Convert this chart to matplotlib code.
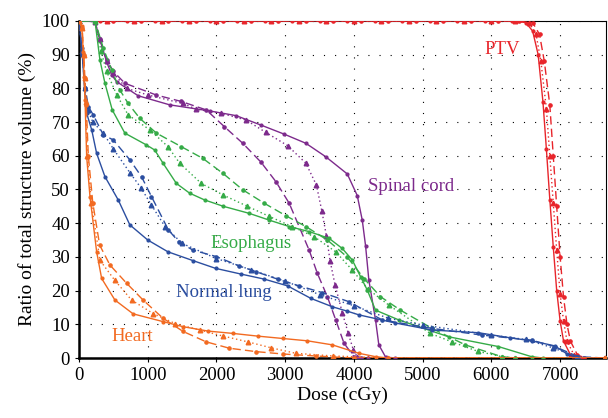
import matplotlib
matplotlib.use("Agg")
import matplotlib.pyplot as plt

plt.rcParams['font.family'] = ['Liberation Serif', 'DejaVu Serif']

# colours per structure
C_PTV = "#e8252b"
C_CORD = "#7d2a8c"
C_ESO = "#35ab47"
C_LUNG = "#2b4ea0"
C_HEART = "#f26a21"

# ---- PTV ----
ptv_solid_x = [0, 300, 700, 1100, 1500, 1900, 2300, 2700, 3100, 3500, 3900, 4300, 4700, 5100, 5500, 5900, 6300, 6500, 6600, 6680, 6750, 6800, 6850, 6900, 6950, 7000, 7050, 7150, 7250, 7650]
ptv_solid_y = [100, 100, 100, 100, 100, 100, 100, 100, 100, 100, 100, 100, 100, 100, 100, 100, 100, 99.5, 97, 90, 76, 62, 47, 33, 20, 11, 5, 1, 0, 0]
ptv_dash_x = [0, 500, 900, 1300, 1700, 2100, 2500, 2900, 3300, 3700, 4100, 4500, 4900, 5300, 5700, 6100, 6400, 6600, 6700, 6770, 6850, 6900, 6950, 7000, 7050, 7100, 7150, 7250, 7350, 7650]
ptv_dash_y = [100, 100, 100, 100, 100, 100, 100, 100, 100, 100, 100, 100, 100, 100, 100, 100, 100, 99.5, 96, 88, 75, 60, 45, 30, 18, 10, 5, 1, 0, 0]
ptv_dot_x = [0, 400, 800, 1200, 1600, 2000, 2400, 2800, 3200, 3600, 4000, 4400, 4800, 5200, 5600, 6000, 6350, 6550, 6650, 6720, 6800, 6850, 6900, 6950, 7000, 7050, 7100, 7200, 7300, 7650]
ptv_dot_y = [100, 100, 100, 100, 100, 100, 100, 100, 100, 100, 100, 100, 100, 100, 100, 100, 100, 99.5, 96, 88, 74, 60, 46, 32, 19, 11, 5, 1, 0, 0]

# ---- Spinal cord ----
cord_solid_x = [0, 232, 304, 401, 474, 546, 860, 1319, 1899, 2285, 2647, 2986, 3300, 3590, 3903, 4048, 4121, 4169, 4217, 4314, 4362, 4460, 4600]
cord_solid_y = [100, 99.8, 94.4, 87.9, 84.0, 82.0, 77.8, 75.1, 73.3, 71.9, 69.1, 66.4, 63.7, 59.7, 54.6, 48.2, 40.9, 33.3, 23.1, 11.3, 3.9, 0.3, 0]
cord_dash_x = [0, 232, 304, 401, 500, 667, 1126, 1488, 1851, 2116, 2382, 2647, 2865, 3058, 3348, 3468, 3613, 3735, 3855, 4000, 4100]
cord_dash_y = [100, 99.8, 94.5, 88.5, 85.0, 81.5, 78.0, 76.1, 73.6, 68.6, 63.7, 58.1, 52.3, 45.9, 32.0, 25.1, 18.2, 11.3, 4.4, 0.4, 0]
cord_dot_x = [0, 232, 304, 401, 500, 691, 1005, 1512, 1706, 2068, 2430, 2720, 3034, 3300, 3454, 3532, 3599, 3652, 3725, 3830, 3917, 3990, 4048, 4200]
cord_dot_y = [100, 99.8, 94.5, 88.0, 84.5, 80.0, 78.0, 75.5, 73.8, 72.6, 70.6, 66.9, 63.0, 57.8, 51.3, 43.7, 36.3, 28.9, 21.7, 13.5, 7.3, 2.5, 0.3, 0]

# ---- Esophagus ----
eso_solid_x = [0, 232, 304, 377, 483, 667, 981, 1101, 1222, 1416, 1609, 1826, 2100, 2478, 2768, 3058, 3348, 3638, 3830, 3975, 4097, 4193, 4314, 4652, 5377, 6101, 6584, 6750, 7650]
eso_solid_y = [100, 100, 88.4, 81.5, 73.6, 66.7, 63.2, 61.7, 57.8, 51.8, 48.9, 46.9, 45.0, 42.9, 40.9, 39.0, 37.5, 35.5, 32.5, 29.1, 24.1, 20.2, 14.2, 11.3, 6.3, 3.4, 0.4, 0, 0]
eso_dash_x = [0, 232, 353, 474, 594, 715, 884, 1126, 1488, 1802, 2092, 2382, 2696, 3010, 3300, 3613, 3900, 4150, 4386, 4676, 5135, 5619, 6150, 6350]
eso_dash_y = [100, 100, 91.9, 85.5, 79.5, 75.5, 71.1, 66.7, 62.7, 59.2, 54.8, 49.9, 45.9, 42.2, 39.0, 35.0, 30.0, 23.5, 18.2, 14.2, 8.8, 3.9, 0.4, 0]
eso_dot_x = [0, 232, 320, 401, 550, 715, 1029, 1294, 1464, 1778, 2092, 2450, 2768, 3100, 3420, 3735, 3975, 4200, 4507, 5110, 5425, 5800, 6150, 6350]
eso_dot_y = [100, 100, 91.0, 85.0, 78.0, 72.1, 67.7, 62.7, 57.8, 51.8, 48.4, 45.0, 42.0, 39.0, 36.0, 31.5, 26.1, 20.5, 15.7, 7.3, 4.8, 2.0, 0.4, 0]

# ---- Normal lung ----
lung_solid_x = [0, 40, 80, 111, 184, 256, 377, 570, 739, 1000, 1294, 1657, 1986, 2357, 2696, 3034, 3372, 3686, 3903, 4072, 4600, 5135, 5812, 6271, 6584, 6923, 7100, 7260, 7650]
lung_solid_y = [100, 92, 80, 72.6, 67.7, 60.7, 53.8, 46.9, 39.5, 35.0, 31.5, 28.9, 26.6, 24.9, 23.4, 21.4, 17.7, 15.2, 13.9, 12.8, 10.4, 8.3, 7.5, 6.0, 5.1, 3.6, 1.2, 0, 0]
lung_dash_x = [0, 50, 90, 135, 207, 353, 497, 739, 909, 1054, 1300, 1450, 1657, 1996, 2333, 2575, 2889, 3203, 3541, 3928, 4411, 5135, 5860, 6584, 6923, 7261, 7650]
lung_dash_y = [100, 90, 80, 74.6, 72.1, 66.2, 64.7, 58.8, 53.8, 47.9, 38.0, 34.5, 32.0, 30.1, 27.3, 25.6, 23.4, 21.4, 19.4, 16.7, 11.3, 8.8, 6.8, 5.3, 3.4, 0.4, 0]
lung_dot_x = [0, 45, 85, 130, 200, 353, 500, 739, 900, 1050, 1250, 1500, 2000, 2500, 3000, 3500, 4000, 4500, 5000, 6000, 6500, 6900, 7250, 7650]
lung_dot_y = [100, 91, 80, 73.5, 70.0, 66.7, 62.0, 55.0, 50.5, 45.5, 39.0, 34.0, 29.5, 26.2, 22.8, 18.8, 15.5, 11.8, 9.8, 6.8, 5.5, 3.0, 0.2, 0]

# ---- Heart ----
heart_solid_x = [0, 39, 62, 72, 87, 111, 159, 256, 329, 522, 787, 1222, 1512, 1874, 2237, 2599, 2961, 3324, 3686, 4072, 4314, 4500, 7650]
heart_solid_y = [100, 98.4, 90.9, 83.5, 76.6, 59.7, 47.9, 31.5, 23.6, 17.2, 13.1, 10.8, 9.3, 8.0, 7.3, 6.5, 5.8, 5.1, 3.9, 1.4, 0.4, 0, 0]
heart_dash_x = [0, 45, 70, 85, 105, 135, 200, 300, 449, 691, 932, 1222, 1512, 1850, 2188, 2575, 2961, 3445, 4000, 7650]
heart_dash_y = [100, 98, 90, 83, 75, 60, 46, 33.5, 27.6, 22.2, 17.2, 11.8, 7.9, 4.8, 2.9, 1.9, 1.2, 0.6, 0, 0]
heart_dot_x = [0, 42, 66, 80, 95, 122, 180, 304, 522, 764, 1077, 1400, 1754, 2100, 2454, 2800, 3154, 3700, 4500, 7650]
heart_dot_y = [100, 98, 90, 83, 76, 60, 46, 29.0, 23.0, 17.2, 13.2, 10.2, 8.3, 6.5, 4.8, 3.0, 1.4, 0.6, 0, 0]

labels = ["PTV", "Spinal cord", "Esophagus", "Normal lung", "Heart"]
label_x = [6150, 4830, 2500, 2110, 780]
label_y = [91.5, 51.0, 34.0, 19.3, 6.5]

structures = [
    (C_PTV, (ptv_solid_x, ptv_solid_y), (ptv_dash_x, ptv_dash_y), (ptv_dot_x, ptv_dot_y)),
    (C_CORD, (cord_solid_x, cord_solid_y), (cord_dash_x, cord_dash_y), (cord_dot_x, cord_dot_y)),
    (C_ESO, (eso_solid_x, eso_solid_y), (eso_dash_x, eso_dash_y), (eso_dot_x, eso_dot_y)),
    (C_LUNG, (lung_solid_x, lung_solid_y), (lung_dash_x, lung_dash_y), (lung_dot_x, lung_dot_y)),
    (C_HEART, (heart_solid_x, heart_solid_y), (heart_dash_x, heart_dash_y), (heart_dot_x, heart_dot_y)),
]

fig = plt.figure(figsize=(6.08, 4.18), dpi=100)
ax = fig.add_axes([0.13, 0.1435, 0.867, 0.8065])

for color, solid, dash, dot in structures:
    ax.plot(*solid, color=color, lw=1.0, marker="o", ms=2.0, zorder=3)
    ax.plot(*dash, color=color, lw=1.0, ls=(0, (6, 3)), marker="o", ms=2.3, zorder=3)
    ax.plot(*dot, color=color, lw=1.0, ls=(0, (1, 2)), marker="^", ms=3.3, zorder=3)

for text, tx, ty, (color, *_) in zip(labels, label_x, label_y, structures):
    ax.text(tx, ty, text, color=color, fontsize=13.5, ha="center", va="center", zorder=4)

ax.set_xlim(0, 7670)
ax.set_ylim(0, 100)
ax.set_xticks(range(0, 8000, 1000))
ax.set_yticks(range(0, 101, 10))
ax.tick_params(labelsize=13.5, direction="out", length=3)
ax.grid(True, color="black", ls=(0, (1, 9)), lw=0.8)
ax.set_axisbelow(True)
ax.spines["bottom"].set_linewidth(1.8)
ax.spines["left"].set_linewidth(1.8)
ax.set_xlabel("Dose (cGy)", fontsize=14, labelpad=2)
ax.set_ylabel("Ratio of total structure volume (%)", fontsize=14, labelpad=4)

fig.savefig("out.png", dpi=100)
